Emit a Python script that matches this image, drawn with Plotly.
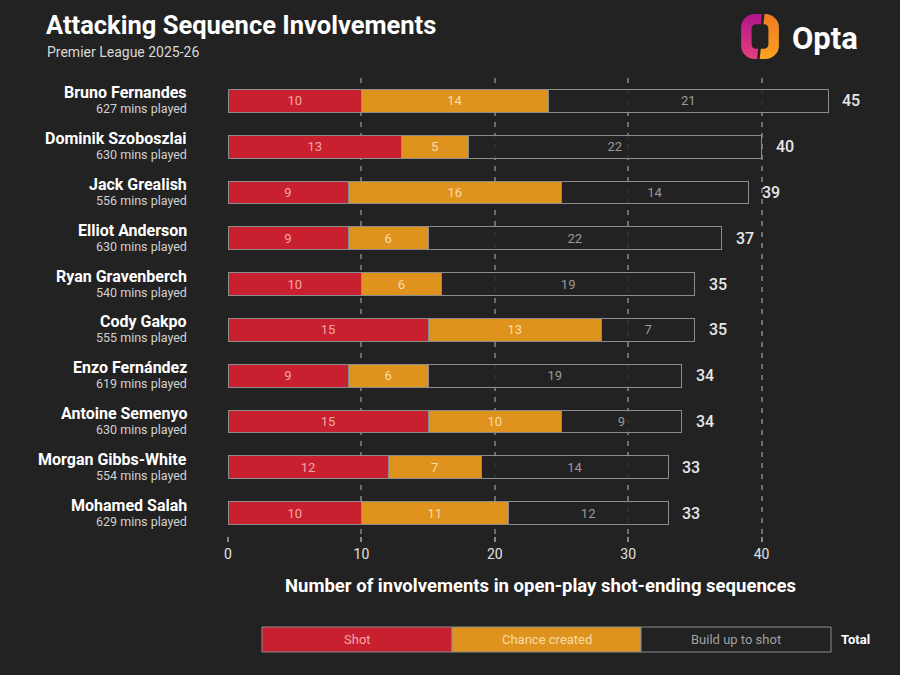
import base64
import plotly.graph_objects as go

players = ["Bruno Fernandes", "Dominik Szoboszlai", "Jack Grealish", "Elliot Anderson",
           "Ryan Gravenberch", "Cody Gakpo", "Enzo Fernández", "Antoine Semenyo",
           "Morgan Gibbs-White", "Mohamed Salah"]
minutes = [627, 630, 556, 630, 540, 555, 619, 630, 554, 629]
shot = [10, 13, 9, 9, 10, 15, 9, 15, 12, 10]
chance = [14, 5, 16, 6, 6, 13, 6, 10, 7, 11]
buildup = [21, 22, 14, 22, 19, 7, 19, 9, 14, 12]
totals = [45, 40, 39, 37, 35, 35, 34, 34, 33, 33]
x_ticks = [0, 10, 20, 30, 40]

BG = "#222222"
FONT = "Roboto"
RED = "#C8202F"
ORANGE = "#DF921E"
EDGE = "#8C8C8C"

# pixel layout helpers
L, R, T, B = 228, 895, 78, 536
def px(x):
    return (x - L) / (R - L)
def py(y):
    return (B - y) / (B - T)

fig = go.Figure()
series = [
    ("Shot", shot, RED, "#F2A6AC"),
    ("Chance created", chance, ORANGE, "#F8DDA8"),
    ("Build up to shot", buildup, "rgba(34,34,34,0.85)", "#9A9A9A"),
]
for name, vals, col, tcol in series:
    fig.add_trace(go.Bar(
        y=players, x=vals, orientation="h", name=name,
        marker=dict(color=col, line=dict(color=EDGE, width=1)),
        width=0.5, text=vals, textposition="inside", insidetextanchor="middle",
        textangle=0, textfont=dict(color=tcol, size=13, family=FONT),
        cliponaxis=False, showlegend=False,
    ))

annotations = []
for p, m, t in zip(players, minutes, totals):
    annotations.append(dict(
        x=px(189), xref="paper", y=p, yref="y", xanchor="right", yanchor="middle",
        yshift=8, showarrow=False, text=f"<b>{p}</b>",
        font=dict(family=FONT, size=16, color="#FFFFFF"),
    ))
    annotations.append(dict(
        x=px(189), xref="paper", y=p, yref="y", xanchor="right", yanchor="middle",
        yshift=-8, showarrow=False, text=f"{m} mins played",
        font=dict(family=FONT, size=12.5, color="#D0D0D0"),
    ))
    annotations.append(dict(
        x=t + 0.9, xref="x", y=p, yref="y", xanchor="left", yanchor="middle",
        showarrow=False, text=f"{t}",
        font=dict(family=FONT, size=16, color="#E8E8E8", weight=500),
    ))

# titles
annotations += [
    dict(x=px(44), y=py(25), xref="paper", yref="paper", xanchor="left", yanchor="middle",
         showarrow=False, text="<b>Attacking Sequence Involvements</b>",
         font=dict(family=FONT, size=25.5, color="#FFFFFF")),
    dict(x=px(45), y=py(52), xref="paper", yref="paper", xanchor="left", yanchor="middle",
         showarrow=False, text="Premier League 2025-26",
         font=dict(family=FONT, size=14, color="#D8D8D8")),
    dict(x=px(540), y=py(586), xref="paper", yref="paper", xanchor="center", yanchor="middle",
         showarrow=False, text="<b>Number of involvements in open-play shot-ending sequences</b>",
         font=dict(family=FONT, size=18.5, color="#FFFFFF")),
    dict(x=px(790), y=py(38), xref="paper", yref="paper", xanchor="left", yanchor="middle",
         showarrow=False, text="<b>Opta</b>",
         font=dict(family=FONT, size=31, color="#FFFFFF")),
]

# legend boxes
shapes = []
leg = [("Shot", 262, 452, RED, "#F2A6AC"),
       ("Chance created", 452, 641, ORANGE, "#F8DDA8"),
       ("Build up to shot", 641, 831, BG, "#A0A0A0")]
for lab, x0, x1, col, tcol in leg:
    shapes.append(dict(type="rect", xref="paper", yref="paper",
                       x0=px(x0), x1=px(x1), y0=py(652), y1=py(627),
                       fillcolor=col, line=dict(color=EDGE, width=1)))
    annotations.append(dict(x=px((x0 + x1) / 2), y=py(639.5), xref="paper", yref="paper",
                            xanchor="center", yanchor="middle", showarrow=False, text=lab,
                            font=dict(family=FONT, size=13, color=tcol)))
annotations.append(dict(x=px(855), y=py(639.5), xref="paper", yref="paper",
                        xanchor="center", yanchor="middle", showarrow=False, text="<b>Total</b>",
                        font=dict(family=FONT, size=13, color="#FFFFFF")))

# Opta logo as inline SVG
svg = """<svg xmlns='http://www.w3.org/2000/svg' viewBox='0 0 40 48'>
<defs>
<linearGradient id='a' x1='0' y1='0' x2='0' y2='1'><stop offset='0' stop-color='#B0158F'/><stop offset='1' stop-color='#E4407A'/></linearGradient>
<linearGradient id='b' x1='0' y1='0' x2='0' y2='1'><stop offset='0' stop-color='#F07A22'/><stop offset='1' stop-color='#FBA321'/></linearGradient>
<clipPath id='cl'><polygon points='0,0 22,0 17,48 0,48'/></clipPath>
<clipPath id='cr'><polygon points='24.5,0 40,0 40,48 19.5,48'/></clipPath>
</defs>
<path fill-rule='evenodd' clip-path='url(#cl)' fill='url(#a)' d='M15,2 H25 A13,13 0 0 1 38,15 V33 A13,13 0 0 1 25,46 H15 A13,13 0 0 1 2,33 V15 A13,13 0 0 1 15,2 Z M16,12 H24 A4,4 0 0 1 28,16 V32 A4,4 0 0 1 24,36 H16 A4,4 0 0 1 12,32 V16 A4,4 0 0 1 16,12 Z'/>
<path fill-rule='evenodd' clip-path='url(#cr)' fill='url(#b)' d='M15,2 H25 A13,13 0 0 1 38,15 V33 A13,13 0 0 1 25,46 H15 A13,13 0 0 1 2,33 V15 A13,13 0 0 1 15,2 Z M16,12 H24 A4,4 0 0 1 28,16 V32 A4,4 0 0 1 24,36 H16 A4,4 0 0 1 12,32 V16 A4,4 0 0 1 16,12 Z'/>
</svg>"""
logo_src = "data:image/svg+xml;base64," + base64.b64encode(svg.encode()).decode()

fig.update_layout(
    width=900, height=675, barmode="stack",
    paper_bgcolor=BG, plot_bgcolor=BG,
    margin=dict(l=L, r=900 - R, t=T, b=675 - B),
    font=dict(family=FONT, color="#FFFFFF"),
    annotations=annotations, shapes=shapes,
    images=[dict(source=logo_src, xref="paper", yref="paper", x=px(739), y=py(12),
                 sizex=px(781) - px(739), sizey=py(12) - py(61), xanchor="left", yanchor="top",
                 sizing="stretch", layer="above")],
    xaxis=dict(range=[0, 50], tickvals=x_ticks, showgrid=True, gridcolor="#6E6E6E",
               griddash="5px,6px", gridwidth=1.5, zeroline=False, showline=False,
               ticks="outside", ticklen=5, tickcolor="#8A8A8A", tickwidth=1.5,
               tickfont=dict(family=FONT, size=14, color="#E0E0E0")),
    yaxis=dict(autorange="reversed", showticklabels=False, showgrid=False,
               zeroline=False, showline=False),
)

fig.write_html("out.html")
